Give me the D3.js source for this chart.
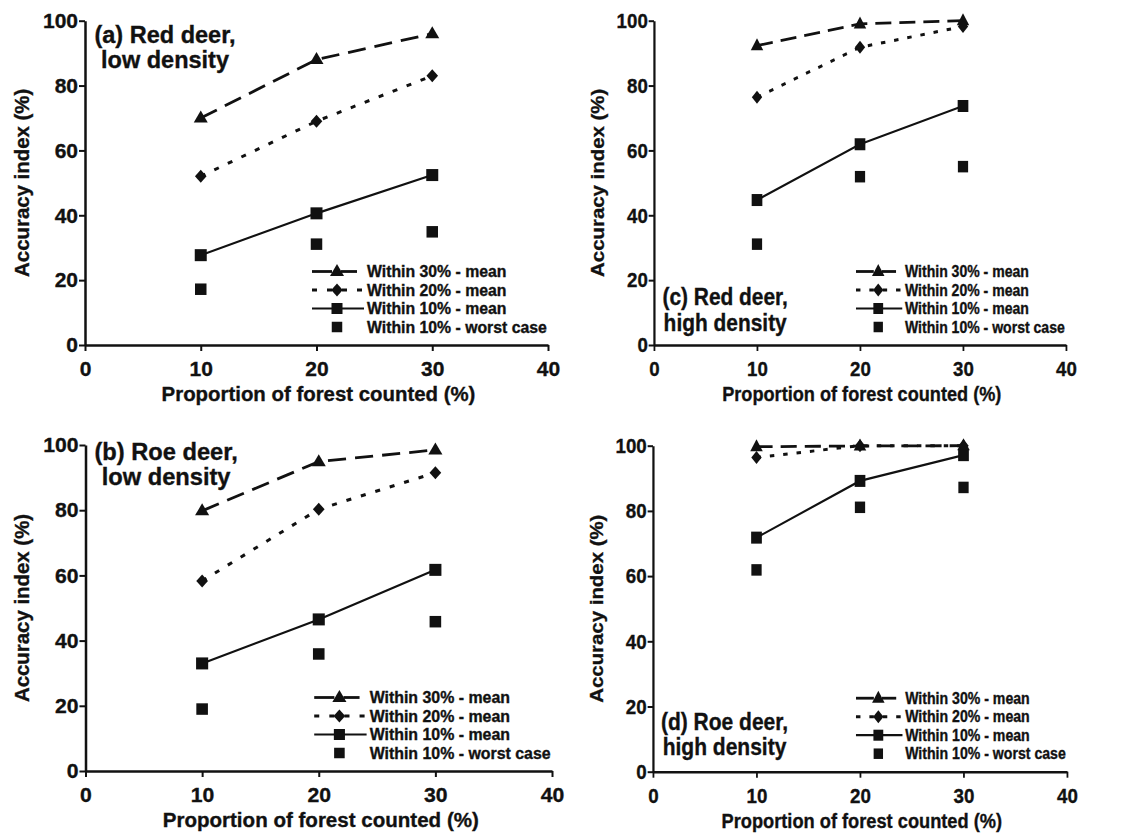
<!DOCTYPE html>
<html><head><meta charset="utf-8">
<script src="https://cdn.jsdelivr.net/npm/d3@7"></script>
<style>
body{margin:0;background:#fff}
svg text{font-family:Arial,"Liberation Sans",Helvetica,sans-serif;font-weight:bold;fill:#111;stroke:#111;stroke-width:0.35px}
</style>
</head><body>
<svg id="chart" width="1146" height="833"></svg>
<script>
// ---------- data ----------
const xValues = [10, 20, 30];
const xTicks = [0, 10, 20, 30, 40];
const yTicks = [0, 20, 40, 60, 80, 100];
const seriesNames = ["Within 30% - mean", "Within 20% - mean", "Within 10% - mean", "Within 10% - worst case"];
const xLabel = "Proportion of forest counted (%)";
const yLabel = "Accuracy index (%)";

// (a) Red deer, low density
const redLow30 = [70, 88, 96];
const redLow20 = [52, 69, 83];
const redLow10 = [27.7, 40.6, 52.4];
const redLowWorst = [17.2, 31.1, 34.9];
// (c) Red deer, high density
const redHigh30 = [92.3, 99, 100];
const redHigh20 = [76.4, 91.8, 98.2];
const redHigh10 = [44.7, 61.9, 73.7];
const redHighWorst = [31.1, 51.9, 55];
// (b) Roe deer, low density
const roeLow30 = [79.8, 94.9, 98.5];
const roeLow20 = [58.3, 80.3, 91.5];
const roeLow10 = [33, 46.5, 61.7];
const roeLowWorst = [19, 35.9, 45.8];
// (d) Roe deer, high density
const roeHigh30 = [99.7, 99.9, 100];
const roeHigh20 = [96.4, 100, 100];
const roeHigh10 = [71.8, 89.2, 97.1];
const roeHighWorst = [61.9, 81.1, 87.2];

const titleA = ["(a) Red deer,", "low density"];
const titleC = ["(c) Red deer,", "high density"];
const titleB = ["(b) Roe deer,", "low density"];
const titleD = ["(d) Roe deer,", "high density"];

// ---------- layout ----------
const panels = [
  {title: titleA, s30: redLow30, s20: redLow20, s10: redLow10, sw: redLowWorst,
   ox: 85, xEnd: 548, top: 20.7, y0: 345, titleY: [22, 47]},
  {title: titleC, s30: redHigh30, s20: redHigh20, s10: redHigh10, sw: redHighWorst,
   ox: 654, xEnd: 1066, top: 20.7, y0: 345, titleY: [284.5, 310.5]},
  {title: titleB, s30: roeLow30, s20: roeLow20, s10: roeLow10, sw: roeLowWorst,
   ox: 85.5, xEnd: 552, top: 445, y0: 771, titleY: [15, 40]},
  {title: titleD, s30: roeHigh30, s20: roeHigh20, s10: roeHigh10, sw: roeHighWorst,
   ox: 653, xEnd: 1067, top: 445.7, y0: 771.7, titleY: [284.5, 309.5]}
];

const INK = "#111";
const FONT = 'Arial,"Liberation Sans",Helvetica,sans-serif';
const W = 463;
const svg = d3.select("#chart");

const triPath = "M0,-7.5L7,4.5L-7,4.5Z";
const diaPath = "M0,-6.5L5.8,0L0,6.5L-5.8,0Z";

function drawSquares(g, pts, size) {
  g.selectAll(null).data(pts).enter().append("rect")
    .attr("x", d => d[0] - size / 2).attr("y", d => d[1] - size / 2)
    .attr("width", size).attr("height", size).attr("fill", INK);
}
function drawSym(g, pts, path) {
  g.selectAll(null).data(pts).enter().append("path")
    .attr("d", path).attr("transform", d => `translate(${d[0]},${d[1]})`).attr("fill", INK);
}

panels.forEach(P => {
  const H = P.y0 - P.top;
  const sx = (P.xEnd - P.ox) / W;
  const g = svg.append("g").attr("transform", `translate(${P.ox},${P.top}) scale(${sx},1)`);
  const x = d3.scaleLinear().domain([0, 40]).range([0, W]);
  const y = d3.scaleLinear().domain([0, 100]).range([H, 0]);

  const ya = g.append("g")
    .call(d3.axisLeft(y).tickValues(yTicks).tickSize(6).tickSizeOuter(0).tickPadding(1));
  const xa = g.append("g").attr("transform", `translate(0,${H})`)
    .call(d3.axisBottom(x).tickValues(xTicks).tickSize(6).tickSizeOuter(0).tickPadding(10));
  [ya, xa].forEach(a => {
    a.attr("font-family", FONT).attr("font-size", 21).attr("font-weight", "bold");
    a.select(".domain").attr("stroke", INK).attr("stroke-width", 2.5);
    a.selectAll(".tick line").attr("stroke", INK).attr("stroke-width", 2);
    a.selectAll(".tick text").attr("fill", INK);
  });

  // axis titles
  g.append("text").attr("x", W / 2 + 2).attr("y", H + 56).attr("text-anchor", "middle")
    .attr("font-size", 20.4).text(xLabel);
  g.append("text").attr("transform", `translate(-63,${H / 2}) rotate(-90)`)
    .attr("text-anchor", "middle").attr("dy", "0.35em").attr("font-size", 20.4).text(yLabel);

  // panel title
  P.title.forEach((t, k) => {
    g.append("text").attr("x", 80).attr("y", P.titleY[k]).attr("text-anchor", "middle")
      .attr("font-size", 23.5).text(t);
  });

  const line = d3.line().x((d, j) => x(xValues[j])).y(d => y(d));
  const pts = arr => arr.map((v, j) => [x(xValues[j]), y(v)]);

  // Within 30%
  g.append("path").datum(P.s30).attr("d", line).attr("fill", "none")
    .attr("stroke", INK).attr("stroke-width", 2.8).attr("stroke-dasharray", "18,9");
  drawSym(g, pts(P.s30), triPath);
  // Within 20%
  g.append("path").datum(P.s20).attr("d", line).attr("fill", "none")
    .attr("stroke", INK).attr("stroke-width", 3).attr("stroke-dasharray", "5,10");
  drawSym(g, pts(P.s20), diaPath);
  // Within 10% mean
  g.append("path").datum(P.s10).attr("d", line).attr("fill", "none")
    .attr("stroke", INK).attr("stroke-width", 2.2);
  drawSquares(g, pts(P.s10), 12);
  // worst case
  drawSquares(g, pts(P.sw), 11.5);

  // legend
  const lx = 282;
  const rows = [H - 73.5, H - 55, H - 36.5, H - 18];
  const lg = g.append("g").attr("transform", `translate(${lx},0)`);
  lg.append("line").attr("x1", -55).attr("x2", -35).attr("y1", rows[0]).attr("y2", rows[0])
    .attr("stroke", INK).attr("stroke-width", 2.8);
  lg.append("line").attr("x1", -26).attr("x2", -10).attr("y1", rows[0]).attr("y2", rows[0])
    .attr("stroke", INK).attr("stroke-width", 2.8);
  drawSym(lg, [[-30, rows[0]]], triPath);
  lg.append("line").attr("x1", -55).attr("x2", -4).attr("y1", rows[1]).attr("y2", rows[1])
    .attr("stroke", INK).attr("stroke-width", 3).attr("stroke-dasharray", "5,10");
  drawSym(lg, [[-30, rows[1]]], diaPath);
  lg.append("line").attr("x1", -55).attr("x2", -3).attr("y1", rows[2]).attr("y2", rows[2])
    .attr("stroke", INK).attr("stroke-width", 2.2);
  drawSquares(lg, [[-30, rows[2]]], 11);
  drawSquares(lg, [[-30, rows[3]]], 10.5);
  seriesNames.forEach((n, k) => {
    lg.append("text").attr("x", 0).attr("y", rows[k]).attr("dy", "0.36em")
      .attr("font-size", 15.8).text(n);
  });
});
</script>
</body></html>
